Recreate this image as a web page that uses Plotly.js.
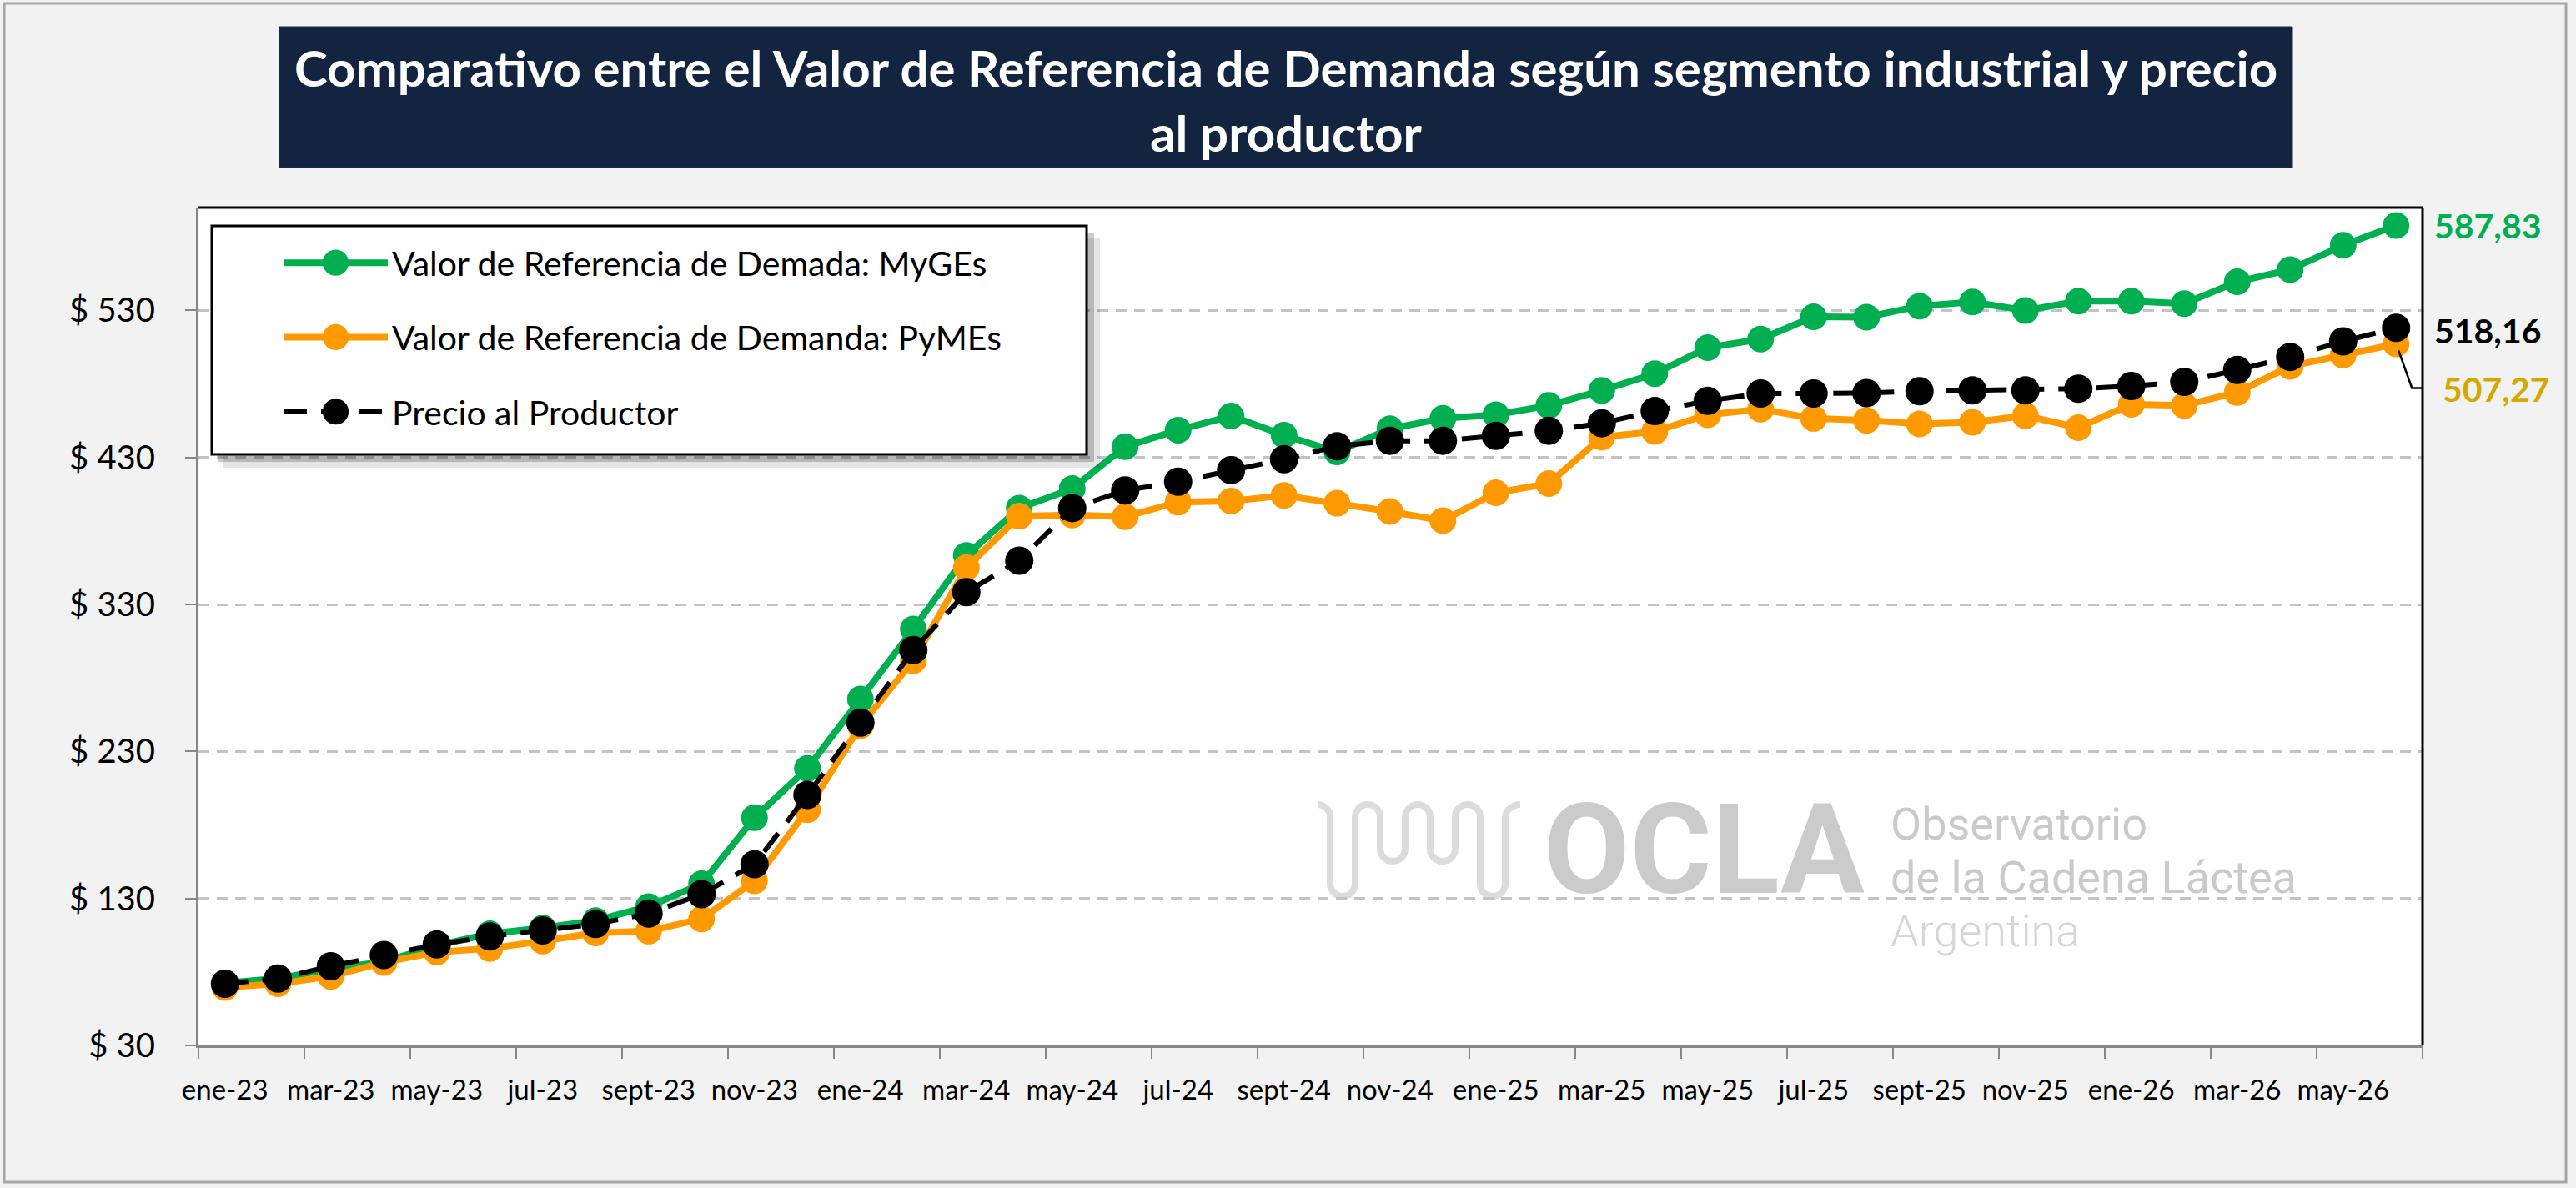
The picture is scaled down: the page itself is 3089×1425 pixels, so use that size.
<!DOCTYPE html>
<html>
<head>
<meta charset="utf-8">
<script src="https://cdn.plot.ly/plotly-3.0.1.min.js"></script>
<style>
  html, body { margin: 0; padding: 0; background: #F2F2F2; }
  #chart { width: 3089px; height: 1425px; }
</style>
</head>
<body>
<div id="chart"></div>
<script>
// ---------------- DATA ----------------
const months = [
  "ene-23","feb-23","mar-23","abr-23","may-23","jun-23","jul-23","ago-23","sept-23","oct-23","nov-23","dic-23",
  "ene-24","feb-24","mar-24","abr-24","may-24","jun-24","jul-24","ago-24","sept-24","oct-24","nov-24","dic-24",
  "ene-25","feb-25","mar-25","abr-25","may-25","jun-25","jul-25","ago-25","sept-25","oct-25","nov-25","dic-25",
  "ene-26","feb-26","mar-26","abr-26","may-26","jun-26"
];
const valorMyGEs = [
  72.5, 75.5, 82, 87, 98, 106, 110, 115, 124.5, 140, 185, 218.5,
  265.6, 313.3, 363.4, 395.6, 408.8, 437.4, 448.6, 458.2, 445.2, 433.8, 449.5, 456.6,
  459.1, 465.4, 475.6, 487, 504.7, 510.5, 525.7, 525.4, 533, 535.8, 530, 536.3,
  536.3, 534.6, 549.5, 557.8, 574.3, 587.83
];
const valorPyMEs = [
  69.5, 72, 77, 86.5, 93.5, 96, 101, 106.6, 107.8, 116.1, 142, 190.4,
  247.5, 291.8, 355.1, 390.1, 390.9, 389.7, 399.7, 400.4, 404.2, 398.9, 393.3, 387,
  406, 412.3, 443.9, 447.7, 459.1, 462.9, 456.6, 455.3, 452.8, 454, 458.4, 450.3,
  466.2, 465.4, 474.3, 492, 499.6, 507.27
];
const precioProductor = [
  72, 75.5, 83.9, 91.5, 98.7, 104.2, 108.3, 112.6, 119.7, 132.9, 153.3, 200.4,
  249.6, 299, 338.4, 359.8, 395.6, 407.6, 413.5, 421.4, 428.8, 437.6, 441.4, 441.4,
  444.7, 448.2, 453.3, 461.6, 468.5, 473.5, 473.5, 473.8, 475.1, 475.6, 475.6, 476.8,
  478.6, 481.4, 489.5, 498.4, 509, 518.16
];
const seriesNames = [
  "Valor de Referencia de Demada: MyGEs",
  "Valor de Referencia de Demanda: PyMEs",
  "Precio al Productor"
];
const yTickVals = [30, 130, 230, 330, 430, 530];
const yTickText = ["$ 30", "$ 130", "$ 230", "$ 330", "$ 430", "$ 530"];
const lastLabels = ["587,83", "507,27", "518,16"];
const titleText = "Comparativo entre el Valor de Referencia de Demanda según segmento industrial y precio<br>al productor";

// ---------------- LAYOUT HELPERS ----------------
const W = 3089, H = 1425;
const M = { l: 238, r: 184, t: 249, b: 171 };
const PW = W - M.l - M.r, PH = H - M.t - M.b;
const px = v => (v - M.l) / PW;          // pixel x -> paper x
const py = v => (H - M.b - v) / PH;      // pixel y -> paper y

const GREEN = "#00B050", ORANGE = "#FF9900", BLACK = "#000000", GOLD = "#D4A800";
const FONT = "Lato, 'Open Sans', sans-serif";
const lineWidths = [8, 8, 6];

const xIdx = months.map((_, i) => i);
const xTickVals = xIdx.filter(i => i % 2 === 0);
const xTickText = xTickVals.map(i => months[i]);
const xBoundaries = [];
for (let b = -0.5; b <= months.length - 0.5; b += 2) xBoundaries.push(b);

const traces = [
  {
    x: xIdx, y: valorMyGEs, name: seriesNames[0], type: "scatter", mode: "lines+markers",
    line: { color: GREEN, width: lineWidths[0] }, marker: { color: GREEN, size: 32 },
    legendgroup: "g1", cliponaxis: false, customdata: months,
    hovertemplate: "%{customdata}: $ %{y}<extra></extra>"
  },
  {
    x: xIdx, y: valorPyMEs, name: seriesNames[1], type: "scatter", mode: "lines+markers",
    line: { color: ORANGE, width: lineWidths[1] }, marker: { color: ORANGE, size: 32 },
    legendgroup: "g2", cliponaxis: false, customdata: months,
    hovertemplate: "%{customdata}: $ %{y}<extra></extra>"
  },
  {
    x: xIdx, y: precioProductor, name: seriesNames[2], type: "scatter", mode: "lines+markers",
    line: { color: BLACK, width: lineWidths[2], dash: "28px,17px" }, marker: { color: BLACK, size: 34 },
    legendgroup: "g3", cliponaxis: false, customdata: months,
    hovertemplate: "%{customdata}: $ %{y}<extra></extra>"
  }
];

const last = months.length - 1;

// OCLA wave logo (decorative watermark), built in pixel space and mapped to paper
function waveLogo() {
  const r = 15, top = 965, bot = 1075, mid = 1033;
  const xs = [1595, 1625, 1655, 1685, 1715, 1745, 1775, 1805];
  const k = 0.5523 * r;
  const P = (x, y) => px(x).toFixed(5) + "," + py(y).toFixed(5);
  let d = "M" + P(1580, top) + " C" + P(1580 + k, top) + " " + P(xs[0], top + r - k) + " " + P(xs[0], top + r);
  const turns = [
    ["U", bot], ["N", top], ["U", mid], ["N", top], ["U", mid], ["N", top], ["U", bot]
  ];
  let cur = xs[0];
  turns.forEach((t, i) => {
    const nx = xs[i + 1];
    const cx = (cur + nx) / 2;
    if (t[0] === "U") {
      const yb = t[1];
      d += " L" + P(cur, yb - r);
      d += " C" + P(cur, yb - r + k) + " " + P(cx - k, yb) + " " + P(cx, yb);
      d += " C" + P(cx + k, yb) + " " + P(nx, yb - r + k) + " " + P(nx, yb - r);
    } else {
      const yt = t[1];
      d += " L" + P(cur, yt + r);
      d += " C" + P(cur, yt + r - k) + " " + P(cx - k, yt) + " " + P(cx, yt);
      d += " C" + P(cx + k, yt) + " " + P(nx, yt + r - k) + " " + P(nx, yt + r);
    }
    cur = nx;
  });
  d += " L" + P(cur, top + r) + " C" + P(cur, top + r - k) + " " + P(1823 - k, top) + " " + P(1823, top);
  return d;
}

const shapes = [
  // outer frame
  { type: "rect", xref: "paper", yref: "paper", x0: px(5), x1: px(3077), y0: py(4), y1: py(1418),
    line: { color: "#A6A6A6", width: 3 }, fillcolor: "rgba(0,0,0,0)", layer: "below" },
  // title box
  { type: "rect", xref: "paper", yref: "paper", x0: px(335), x1: px(2749), y0: py(32), y1: py(201),
    line: { color: "#1B2C48", width: 1 }, fillcolor: "#12243F", layer: "below" },
  // plot frame top & right
  { type: "line", xref: "paper", yref: "paper", x0: 0, x1: 1, y0: 1, y1: 1, line: { color: "#000000", width: 3 }, layer: "above" },
  { type: "line", xref: "paper", yref: "paper", x0: 1, x1: 1, y0: 0, y1: 1, line: { color: "#000000", width: 3 }, layer: "above" },
  // watermark logo
  { type: "path", xref: "paper", yref: "paper", path: waveLogo(), line: { color: "#DCDCDC", width: 8 }, layer: "below" },
  // legend shadow and box
  { type: "rect", xref: "paper", yref: "paper", x0: px(268), x1: px(1319), y0: py(285), y1: py(561),
    line: { width: 0 }, fillcolor: "rgba(0,0,0,0.10)", layer: "above" },
  { type: "rect", xref: "paper", yref: "paper", x0: px(262), x1: px(1312), y0: py(279), y1: py(554),
    line: { width: 0 }, fillcolor: "rgba(0,0,0,0.20)", layer: "above" },
  { type: "rect", xref: "paper", yref: "paper", x0: px(254), x1: px(1303), y0: py(271), y1: py(545),
    line: { color: "#000000", width: 3 }, fillcolor: "#FFFFFF", layer: "above" },
  // leader line for PyMEs label
  { type: "path", xref: "x", yref: "y", xsizemode: "pixel", ysizemode: "pixel",
    xanchor: last, yanchor: valorPyMEs[last], path: "M3,-8 L19,-53 L40,-53",
    line: { color: "#000000", width: 2.5 }, layer: "above" }
];

const WM = "Roboto, sans-serif";
const annotations = [
  { x: last, y: valorMyGEs[last], xref: "x", yref: "y", text: "<b>" + lastLabels[0] + "</b>", showarrow: false,
    xanchor: "left", yanchor: "middle", xshift: 44, font: { family: FONT, size: 41, color: GREEN } },
  { x: last, y: precioProductor[last], xref: "x", yref: "y", text: "<b>" + lastLabels[2] + "</b>", showarrow: false,
    xanchor: "left", yanchor: "middle", xshift: 44, yshift: -3, font: { family: FONT, size: 41, color: BLACK } },
  { x: last, y: valorPyMEs[last], xref: "x", yref: "y", text: "<b>" + lastLabels[1] + "</b>", showarrow: false,
    xanchor: "left", yanchor: "middle", xshift: 54, yshift: -54, font: { family: FONT, size: 41, color: GOLD } },
  // watermark text
  { xref: "paper", yref: "paper", x: px(1850), y: py(1020), text: "<b>OCLA</b>", showarrow: false, borderpad: 0,
    xanchor: "left", yanchor: "middle", font: { family: WM, size: 150, color: "#CBCBCB" } },
  { xref: "paper", yref: "paper", x: px(2266), y: py(988), text: "Observatorio", showarrow: false, borderpad: 0,
    xanchor: "left", yanchor: "middle", font: { family: WM, size: 54, color: "#CACACA" } },
  { xref: "paper", yref: "paper", x: px(2266), y: py(1052), text: "de la Cadena Láctea", showarrow: false, borderpad: 0,
    xanchor: "left", yanchor: "middle", font: { family: WM, size: 54, color: "#CACACA" } },
  { xref: "paper", yref: "paper", x: px(2266), y: py(1116), text: "Argentina", showarrow: false, borderpad: 0,
    xanchor: "left", yanchor: "middle", font: { family: WM, size: 54, color: "#D6D6D6", weight: 300 } }
];

const layout = {
  width: W, height: H,
  margin: M,
  paper_bgcolor: "#F2F2F2",
  plot_bgcolor: "#FFFFFF",
  font: { family: FONT, color: "#000000" },
  title: {
    text: titleText,
    font: { family: FONT, size: 60, color: "#FFFFFF", weight: "bold" },
    xref: "container", yref: "container",
    x: 1542 / W, xanchor: "center",
    y: 1 - 104 / H, yanchor: "middle"
  },
  xaxis: {
    range: [-0.5, months.length - 0.5],
    tickmode: "array", tickvals: xTickVals, ticktext: xTickText,
    ticks: "", showgrid: false, zeroline: false,
    showline: true, linecolor: "#868686", linewidth: 3,
    tickfont: { family: FONT, size: 33, color: "#000000" },
    ticklabelstandoff: 22,
    minor: { tickmode: "array", tickvals: xBoundaries, ticks: "outside", ticklen: 13, tickwidth: 2, tickcolor: "#868686", showgrid: false },
    fixedrange: true
  },
  yaxis: {
    range: [30, 600],
    tickmode: "array", tickvals: yTickVals, ticktext: yTickText,
    ticks: "outside", ticklen: 13, tickwidth: 2, tickcolor: "#868686",
    showline: true, linecolor: "#868686", linewidth: 3,
    showgrid: true, gridcolor: "#C3C3C3", gridwidth: 3, griddash: "13px,9px",
    zeroline: false,
    tickfont: { family: FONT, size: 40, color: "#000000" },
    ticklabelstandoff: 28,
    fixedrange: true
  },
  showlegend: true,
  legend: {
    x: px(335), y: py(282), xanchor: "left", yanchor: "top",
    xref: "paper", yref: "paper",
    bgcolor: "rgba(0,0,0,0)", borderwidth: 0,
    font: { family: FONT, size: 41, color: "#000000" },
    itemwidth: 125, traceorder: "grouped", tracegroupgap: 33,
    itemclick: false, itemdoubleclick: false
  },
  shapes: shapes,
  annotations: annotations,
  hovermode: "closest"
};

// Plotly caps legend symbol sizes; enlarge them to match the series styling.
function enlargeLegendSymbols(gd) {
  const items = gd.querySelectorAll(".legend .traces");
  items.forEach((item, i) => {
    item.querySelectorAll(".legendpoints path.scatterpts").forEach(p => {
      const t = p.getAttribute("transform") || "";
      if (t.indexOf("scale") === -1) p.setAttribute("transform", t + " scale(1.95)");
    });
    item.querySelectorAll(".legendlines path").forEach(p => {
      p.style.strokeWidth = (lineWidths[i] || 6) + "px";
    });
  });
}

Plotly.newPlot("chart", traces, layout, { displayModeBar: false, responsive: false })
  .then(gd => { enlargeLegendSymbols(gd); gd.on("plotly_afterplot", () => enlargeLegendSymbols(gd)); });
</script>
</body>
</html>
